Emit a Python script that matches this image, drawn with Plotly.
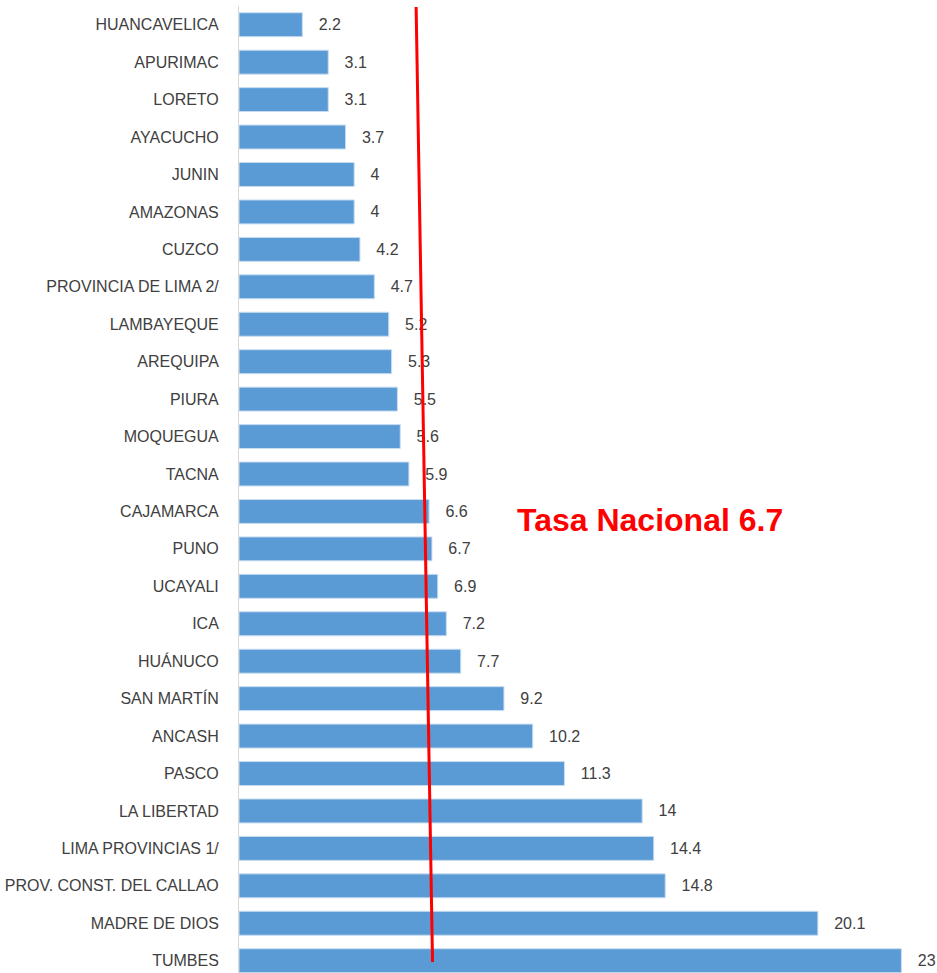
import plotly.graph_objects as go

regions = ["HUANCAVELICA", "APURIMAC", "LORETO", "AYACUCHO", "JUNIN", "AMAZONAS",
           "CUZCO", "PROVINCIA DE LIMA 2/", "LAMBAYEQUE", "AREQUIPA", "PIURA",
           "MOQUEGUA", "TACNA", "CAJAMARCA", "PUNO", "UCAYALI", "ICA", "HUÁNUCO",
           "SAN MARTÍN", "ANCASH", "PASCO", "LA LIBERTAD", "LIMA PROVINCIAS 1/",
           "PROV. CONST. DEL CALLAO", "MADRE DE DIOS", "TUMBES"]
rates = [2.2, 3.1, 3.1, 3.7, 4, 4, 4.2, 4.7, 5.2, 5.3, 5.5, 5.6, 5.9, 6.6, 6.7,
         6.9, 7.2, 7.7, 9.2, 10.2, 11.3, 14, 14.4, 14.8, 20.1, 23]
national_rate = 6.7
national_label = "Tasa Nacional 6.7"

W, H = 937, 973
ML, MT = 239, 6
plot_w = W - ML
plot_h = H - MT
px_per_unit = 28.8
band = 37.44

fig = go.Figure()
fig.add_trace(go.Bar(
    x=rates, y=regions, orientation="h",
    marker=dict(color="#5B9BD5", line=dict(color="#C9DDF0", width=1)),
    width=0.64,
    text=[f"{v:g}" for v in rates],
    texttemplate="   %{text}",
    textposition="outside",
    cliponaxis=False,
    textfont=dict(family="Liberation Sans, Arial, sans-serif", size=16, color="#404040"),
    hoverinfo="skip",
))

n_units = plot_h / band
fig.update_layout(
    width=W, height=H,
    margin=dict(l=ML, r=0, t=MT, b=0, autoexpand=False),
    plot_bgcolor="white", paper_bgcolor="white",
    showlegend=False,
    xaxis=dict(range=[0, plot_w / px_per_unit], visible=False, automargin=False),
    yaxis=dict(
        range=[-0.5 + n_units, -0.5], automargin=False,
        showline=True, linecolor="#D9D9D9", linewidth=1,
        ticks="", ticklabelstandoff=16,
        tickfont=dict(family="Liberation Sans, Arial, sans-serif", size=16, color="#404040"),
        showgrid=False, zeroline=False,
    ),
    shapes=[dict(
        type="line", xref="x", yref="paper",
        x0=national_rate - 0.55, y0=1 - 1 / plot_h,
        x1=national_rate + 0.02, y1=1 - (962 - MT) / plot_h,
        line=dict(color="#FF0000", width=3), layer="above",
    )],
    annotations=[dict(
        text="<b>" + national_label + "</b>", xref="x", yref="y",
        x=national_rate + 2.87, y=regions[13], xanchor="left", yanchor="middle",
        showarrow=False, yshift=-9,
        font=dict(family="Liberation Sans, Arial, sans-serif", size=32, color="#FF0000"),
    )],
)

fig.write_html("out.html", config={"displayModeBar": False},
               post_script="document.body.style.margin='0';document.body.style.overflow='hidden';")
